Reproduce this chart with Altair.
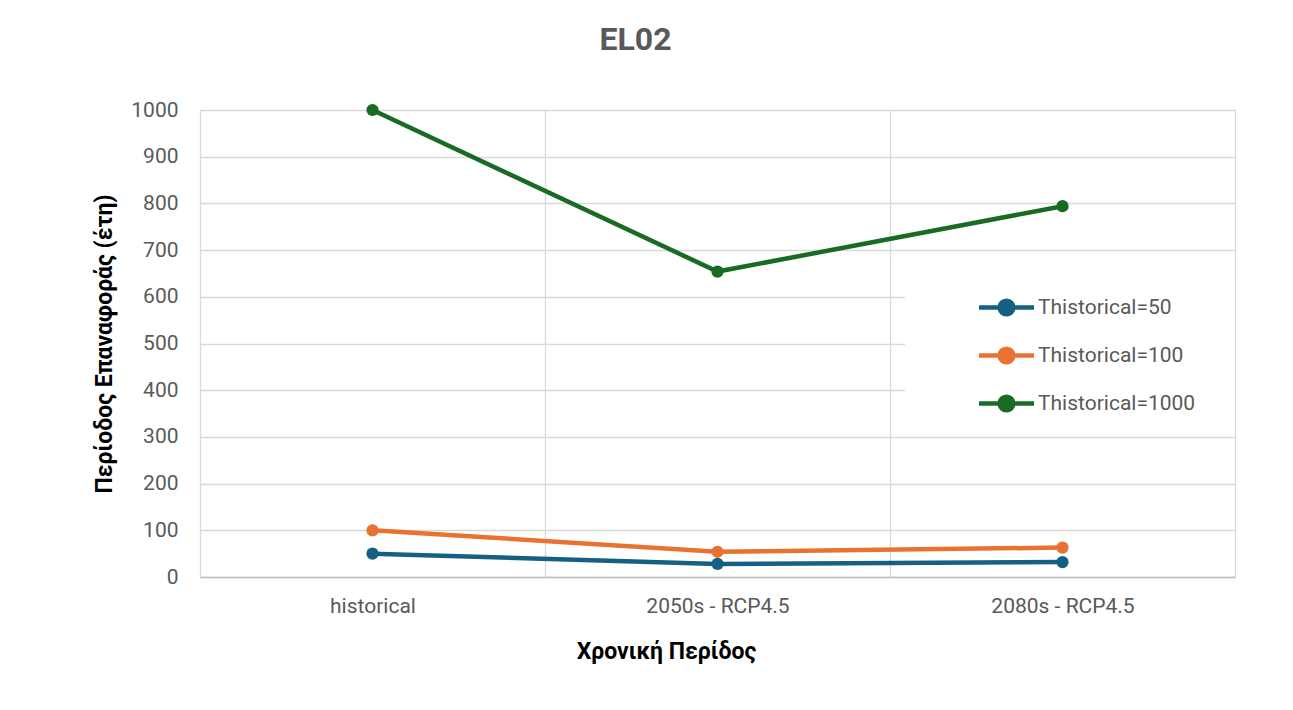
import altair as alt
import pandas as pd

periods = ["historical", "2050s - RCP4.5", "2080s - RCP4.5"]
series_names = ["Thistorical=50", "Thistorical=100", "Thistorical=1000"]
t50 = [50, 28, 32]
t100 = [100, 54, 63]
t1000 = [1000, 654, 794]
colors = ["#156082", "#E97132", "#196B24"]

rows = []
for name, vals in zip(series_names, [t50, t100, t1000]):
    for p, v in zip(periods, vals):
        rows.append({"period": p, "series": name, "value": v})
df = pd.DataFrame(rows)

FONT = "Roboto"
GRAY = "#595959"

legend_symbol = "M-2.5,0L2.5,0M-0.62,0A0.62,0.62,0,1,1,0.62,0A0.62,0.62,0,1,1,-0.62,0Z"

color = alt.Color(
    "series:N",
    sort=series_names,
    scale=alt.Scale(domain=series_names, range=colors),
    legend=alt.Legend(
        title="\u00a0",
        titleOrient="right",
        titlePadding=28,
        titleFontSize=10,
        orient="none",
        legendX=705,
        legendY=172,
        fillColor="white",
        padding=12,
        symbolType=legend_symbol,
        symbolSize=484,
        symbolStrokeWidth=4.5,
        symbolOffset=76,
        rowPadding=15,
        labelOffset=18,
        labelFont=FONT,
        labelFontSize=21,
        labelColor=GRAY,
        symbolOpacity=1,
    ),
)

x = alt.X(
    "period:N",
    sort=periods,
    title="Χρονική Περίδος",
    scale=alt.Scale(paddingInner=0, paddingOuter=0),
    axis=alt.Axis(
        labelAngle=0,
        labelFont=FONT,
        labelFontSize=21,
        labelColor=GRAY,
        labelPadding=18,
        ticks=False,
        grid=True,
        gridColor="#d9d9d9",
        gridWidth=1.3,
        tickBand="extent",
        domainColor="#bfbfbf",
        domainWidth=1.5,
        titleFont=FONT,
        titleFontSize=23,
        titleFontWeight="bold",
        titleColor="black",
        titlePadding=24,
        titleX=466,
    ),
)

y = alt.Y(
    "value:Q",
    title="Περίοδος Επαναφοράς (έτη)",
    scale=alt.Scale(domain=[0, 1000], nice=False),
    axis=alt.Axis(
        values=list(range(0, 1001, 100)),
        format="d",
        labelFont=FONT,
        labelFontSize=21,
        labelColor=GRAY,
        labelPadding=22,
        ticks=False,
        domain=False,
        grid=True,
        gridColor="#d9d9d9",
        gridWidth=1.3,
        titleFont=FONT,
        titleFontSize=23,
        titleFontWeight="bold",
        titleColor="black",
        titlePadding=14,
    ),
)

base = alt.Chart(df).encode(x=x, y=y, color=color, detail="series:N")

lines = base.mark_line(strokeWidth=4.5)
points = base.mark_circle(size=150, opacity=1)

chart = (
    alt.layer(lines, points)
    .properties(
        width=1035,
        height=467,
        title=alt.Title(
            "EL02",
            font=FONT,
            fontSize=32,
            fontWeight="bold",
            color=GRAY,
            anchor="middle",
            dx=-82,
            offset=42,
        ),
        padding={"left": 192, "top": 102, "right": 50, "bottom": 120},
        autosize=alt.AutoSizeParams(type="none"),
    )
    .configure_view(stroke=None)
    .configure(background="white")
)

chart.save("out.html", embed_options={"renderer": "svg", "actions": False})
